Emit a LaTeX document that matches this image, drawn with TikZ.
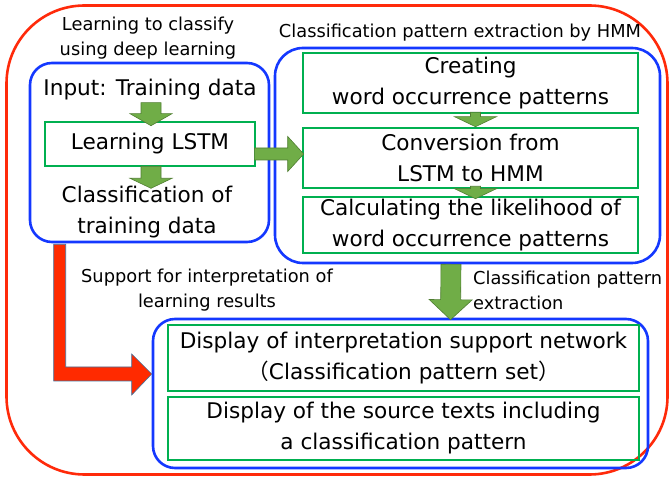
\documentclass[tikz,border=0pt]{standalone}
\usepackage{fontspec}
\setmainfont{DejaVu Sans}
\newfontfamily\cjkfont{Noto Sans CJK JP}
\usetikzlibrary{calc}
\definecolor{outred}{HTML}{FF2A0A}
\definecolor{bluel}{HTML}{1438FF}
\definecolor{greenl}{HTML}{00B050}
\definecolor{garrowfill}{HTML}{70AD47}
\definecolor{garrowline}{HTML}{507E32}
\definecolor{rarrowfill}{HTML}{FF2A00}
\definecolor{rarrowline}{HTML}{41719C}
\newcommand\blockarrow[6]{%
  \path #2 coordinate (ba-s) #3 coordinate (ba-e);
  \path ($(ba-e)!#6!(ba-s)$) coordinate (ba-h);
  \draw[#1] ($(ba-s)!#4!90:(ba-e)$) -- ($(ba-h)!#4!-90:(ba-s)$) -- ($(ba-h)!#5!-90:(ba-s)$) -- (ba-e) -- ($(ba-h)!#5!90:(ba-s)$) -- ($(ba-h)!#4!90:(ba-s)$) -- ($(ba-s)!#4!-90:(ba-e)$) -- cycle;}
\tikzset{
  outerbox/.style={draw=outred, line width=2.6pt},
  bluebox/.style={draw=bluel, line width=2.6pt, rounded corners=22pt, inner sep=0pt},
  greenbox/.style={draw=greenl, line width=2.6pt, inner sep=0pt, align=center, font=\fontsize{21.6}{31}\selectfont},
  maintext/.style={align=center, inner sep=0pt, font=\fontsize{21.6}{31}\selectfont},
  labeltext/.style={inner sep=0pt, font=\fontsize{17.8}{25}\selectfont},
  garrow/.style={fill=garrowfill, draw=garrowline, line width=0.6pt},
  rarrow/.style={fill=rarrowfill, draw=rarrowline, line width=0.6pt},
}
\begin{document}
\begin{tikzpicture}[x=1pt, y=-1pt]
\useasboundingbox (0,0) rectangle (670,478);
% outer frame
\node[outerbox, rounded corners=78pt, minimum width=661pt, minimum height=469pt, inner sep=0pt] (outer) at (337,240) {};
% blue boxes
\node[bluebox, minimum width=239pt, minimum height=179pt] (leftbox) at (149.5,152.5) {};
\node[bluebox, rounded corners=28pt, minimum width=385pt, minimum height=215pt] (rightbox) at (467.5,155.5) {};
\node[bluebox, minimum width=495pt, minimum height=149pt] (botbox) at (400.5,393.5) {};
% labels
\node[labeltext, align=center] (lbl1) at (148,38) {Learning to classify\\using deep learning};
\node[labeltext] (lbl2) at (460,33) {Classification pattern extraction by HMM};
\node[labeltext, align=center] (lbl3) at (207,290) {Support for interpretation of\\learning results};
\node[labeltext, align=left, anchor=west] (lbl4) at (473,290) {Classification pattern\\extraction};
% left content
\node[maintext] (input) at (150,90) {Input: Training data};
\node[greenbox, minimum width=210pt, minimum height=44pt] (lstm) at (150,144) {Learning LSTM};
\node[maintext] (clsf) at (147,212) {Classification of\\training data};
% right content
\node[greenbox, minimum width=335pt, minimum height=60pt] (g1) at (470.5,83) {Creating\\word occurrence patterns};
\node[greenbox, minimum width=335pt, minimum height=60pt] (g2) at (470.5,158) {Conversion from\\LSTM to HMM};
\node[greenbox, minimum width=335pt, minimum height=56pt] (g3) at (470.5,225) {Calculating the likelihood of\\word occurrence patterns};
% bottom content
\node[greenbox, minimum width=471pt, minimum height=66pt] (ga) at (403.5,358) {Display of interpretation support network\\{\cjkfont （}Classification pattern set{\cjkfont ）}};
\node[greenbox, minimum width=471pt, minimum height=63pt] (gb) at (403.5,428.5) {Display of the source texts including\\a classification pattern};
% green block arrows
\blockarrow{garrow}{($(lstm.north)+(1,-18)$)}{($(lstm.north)+(1,5)$)}{10pt}{21pt}{12pt}
\blockarrow{garrow}{($(lstm.south)+(1,-1)$)}{($(lstm.south)+(1,21)$)}{10pt}{21pt}{10pt}
\blockarrow{garrow}{($(lstm.east)+(-2,10)$)}{($(g2.west)+(2,-4)$)}{6pt}{17.5pt}{16pt}
\blockarrow{garrow}{($(g1.south)+(5,-2)$)}{($(g2.north)+(5,0)$)}{5pt}{21pt}{10pt}
\blockarrow{garrow}{($(g2.south)+(5,-3)$)}{($(g3.north)+(5,3)$)}{5pt}{21pt}{10pt}
\blockarrow{garrow}{($(rightbox.south)+(-16.5,0)$)}{($(botbox.north)+(50,2)$)}{10pt}{21.5pt}{20pt}
% red L arrow
\coordinate (rs) at ($(leftbox.south west)+(31,1)$);
\coordinate (rt) at ($(botbox.west)+(0,-19.5)$);
\draw[rarrow] let \p1=(rs), \p2=(rt) in
  (\x1-6pt,\y1) -- (\x1+6pt,\y1) -- (\x1+6pt,\y2+7pt) -- (\x2-20pt,\y2+7pt) -- (\x2-20pt,\y2+20pt) -- (\x2,\y2) -- (\x2-20pt,\y2-21pt) -- (\x2-20pt,\y2-7pt) -- (\x1-6pt,\y2-7pt) -- cycle;
\end{tikzpicture}
\end{document}
